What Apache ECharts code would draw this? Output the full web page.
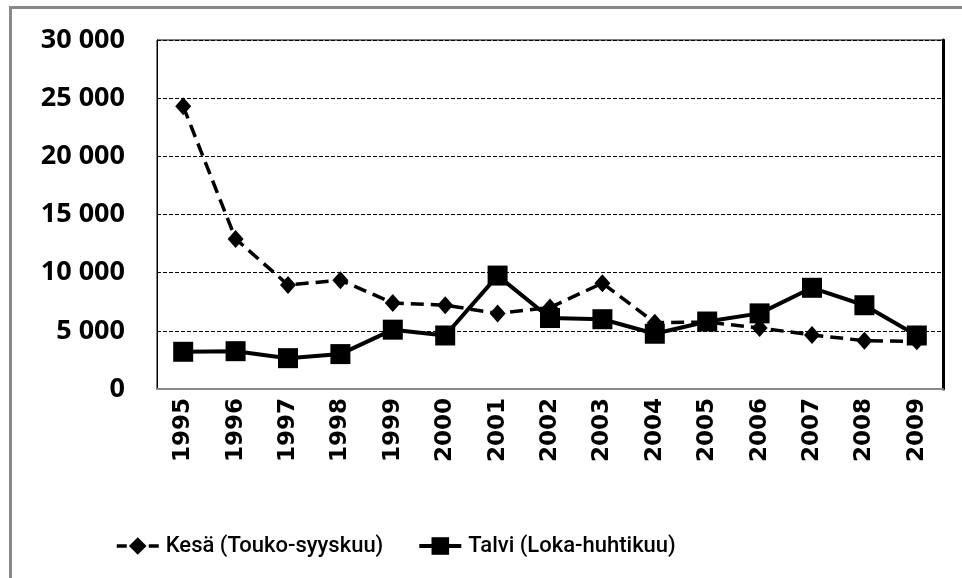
<!DOCTYPE html>
<html>
<head>
<meta charset="utf-8">
<script src="https://cdn.jsdelivr.net/npm/echarts@6/dist/echarts.min.js"></script>
<style>
html,body{margin:0;padding:0;background:#fff;}
#chart{width:962px;height:578px;}
</style>
</head>
<body>
<div id="chart"></div>
<script>
const years = ['1995','1996','1997','1998','1999','2000','2001','2002','2003','2004','2005','2006','2007','2008','2009'];
const kesa = [24300, 12900, 8950, 9350, 7400, 7200, 6500, 7000, 9100, 5700, 5750, 5250, 4650, 4150, 4100];
const talvi = [3200, 3250, 2650, 3000, 5100, 4600, 9750, 6100, 6000, 4750, 5800, 6500, 8700, 7200, 4600];
const seriesNames = ['Kesä (Touko-syyskuu)', 'Talvi (Loka-huhtikuu)'];

const chart = echarts.init(document.getElementById('chart'), null, {renderer: 'canvas'});
const fmt = v => String(v).replace(/\B(?=(\d{3})+(?!\d))/g, ' ');

chart.setOption({
  animation: false,
  backgroundColor: '#fff',
  graphic: [{
    type: 'rect',
    shape: {x: 10.5, y: 7.5, width: 1100, height: 1100},
    style: {fill: null, stroke: '#888', lineWidth: 3},
    silent: true
  }],
  grid: {
    left: 157, right: 19, top: 40, bottom: 189,
    show: true, borderColor: '#000', borderWidth: 1
  },
  legend: {
    left: 110, top: 530,
    itemWidth: 42, itemHeight: 22, itemGap: 34,
    textStyle: {fontFamily: '"Liberation Sans Narrow", Roboto, sans-serif', fontSize: 22, fontWeight: 500, color: '#000', padding: [0, 0, 0, 2]},
    data: [
      {name: seriesNames[0], lineStyle: {type: [10, 6], width: 3.5, color: '#000'}},
      {name: seriesNames[1], lineStyle: {width: 4, color: '#000'}}
    ]
  },
  xAxis: {
    type: 'category',
    data: years,
    boundaryGap: true,
    axisTick: {show: false},
    axisLine: {show: true, lineStyle: {color: '#888', width: 2}},
    axisLabel: {
      rotate: 90, margin: 9, color: '#000',
      fontFamily: '"DejaVu Sans", sans-serif', fontWeight: 'bold', fontSize: 23
    },
    splitLine: {show: false}
  },
  yAxis: [{
    type: 'value',
    min: 0, max: 30000, interval: 5000,
    axisLine: {show: true, lineStyle: {color: '#000', width: 1}},
    axisTick: {show: false},
    axisLabel: {
      margin: 32, color: '#000', formatter: fmt,
      fontFamily: '"Open Sans", sans-serif', fontWeight: 'bold', fontSize: 27
    },
    splitLine: {show: true, lineStyle: {color: '#000', width: 1, type: [4, 2]}}
  }, {
    type: 'value', position: 'right',
    min: 0, max: 30000, interval: 5000,
    axisLine: {show: true, lineStyle: {color: '#000', width: 3}},
    axisTick: {show: false}, axisLabel: {show: false}, splitLine: {show: false}
  }],
  series: [{
    name: seriesNames[0],
    type: 'line',
    data: kesa,
    symbol: 'diamond', symbolSize: [16, 18],
    itemStyle: {color: '#000'},
    lineStyle: {color: '#000', width: 3.5, type: [13, 7]},
    z: 2
  }, {
    name: seriesNames[1],
    type: 'line',
    data: talvi,
    symbol: 'rect', symbolSize: 20,
    itemStyle: {color: '#000'},
    lineStyle: {color: '#000', width: 4},
    z: 3
  }]
});
</script>
</body>
</html>
